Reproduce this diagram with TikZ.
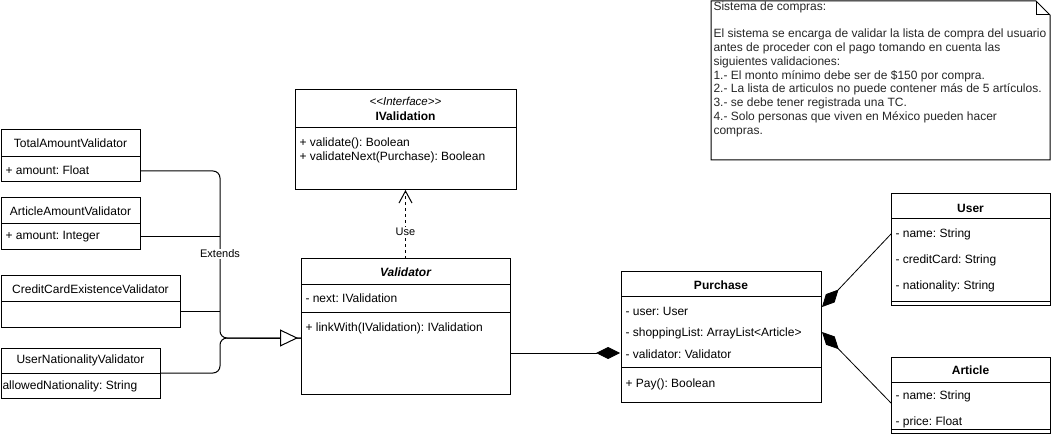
\documentclass[tikz,border=0pt]{standalone}
\usepackage{fontspec}
\setmainfont[Ligatures=NoCommon]{Liberation Sans}
\usetikzlibrary{arrows.meta,calc}
\frenchspacing
\begin{document}
\frenchspacing
\begin{tikzpicture}[x=1pt,y=-1pt,
  font=\fontsize{12}{13.8}\selectfont,
  line width=1pt,
  box/.style={draw=black, fill=white, inner sep=0pt, outer sep=0pt, anchor=north west, rectangle},
  mem/.style={anchor=west, inner sep=0pt},
  ttl/.style={anchor=center, inner sep=0pt, font=\fontsize{12}{13.8}\selectfont\bfseries},
  lbl/.style={fill=white, inner sep=1pt, font=\fontsize{11}{13}\selectfont},
  diam/.style={{Diamond[length=24pt,width=12pt]}-},
  ext/.style={-{Triangle[open,length=18pt,width=17pt,fill=white]}},
]
\useasboundingbox (0,0) rectangle (1051,443);

% ---- Left subclasses
\node[box, minimum width=139pt, minimum height=52pt] (total) at (1,130) {};
\draw (1,157) -- (140,157);
\node[ttl, font=\fontsize{12}{13.8}\selectfont] (totalT) at (70.5,143.5) {TotalAmountValidator};
\node[mem] (totalA) at (5,170) {+ amount: Float};

\node[box, minimum width=139pt, minimum height=52pt] (artv) at (1,198) {};
\draw (1,224) -- (140,224);
\node[ttl, font=\fontsize{12}{13.8}\selectfont] (artvT) at (70.5,211) {ArticleAmountValidator};
\node[mem] (artvA) at (5,237) {+ amount: Integer};

\node[box, minimum width=179pt, minimum height=51pt] (ccv) at (1,276) {};
\draw (1,302) -- (180,302);
\node[ttl, font=\fontsize{12}{13.8}\selectfont] (ccvT) at (90.5,289) {CreditCardExistenceValidator};

\node[box, minimum width=159pt, minimum height=50pt] (unv) at (1,348) {};
\draw (1,373) -- (160,373);
\node[ttl, font=\fontsize{12}{13.8}\selectfont] (unvT) at (80.5,360.5) {UserNationalityValidator};
\node[mem] (unvA) at (2,386) {allowedNationality: String};

% ---- IValidation
\node[box, minimum width=221pt, minimum height=100pt] (ival) at (295,90) {};
\draw (295,128) -- (516,128);
\node[inner sep=0pt, font=\fontsize{11.5}{13}\selectfont\itshape] (ivalS) at (405.5,101) {{<}{<}Interface{>}{>}};
\node[ttl] (ivalT) at (405.5,116) {IValidation};
\node[mem] (ivalA) at (299,143) {+ validate(): Boolean};
\node[mem] (ivalB) at (299,157) {+ validateNext(Purchase): Boolean};

% ---- Validator
\node[box, minimum width=209pt, minimum height=135pt] (valid) at (301,259) {};
\draw (301,285) -- (510,285);
\draw (301,312) -- (510,312);
\node[ttl, font=\fontsize{12}{13.8}\selectfont\bfseries\itshape] (validT) at (405.5,272) {Validator};
\node[mem] (validA) at (305,298) {- next: IValidation};
\node[mem] (validB) at (305,328) {+ linkWith(IValidation): IValidation};

% ---- Purchase
\node[box, minimum width=200pt, minimum height=130pt] (purch) at (621,272) {};
\draw (621,297) -- (821,297);
\draw (621,367) -- (821,367);
\node[ttl] (purchT) at (721,285) {Purchase};
\node[mem] (purchA) at (625,311) {- user: User};
\node[mem] (purchB) at (625,333) {- shoppingList: ArrayList{<}Article{>}};
\node[mem] (purchC) at (625,354) {- validator: Validator};
\node[mem] (purchD) at (625,384) {+ Pay(): Boolean};

% ---- User
\node[box, minimum width=159pt, minimum height=112pt] (user) at (891,194) {};
\draw (891,219) -- (1050,219);
\draw (891,302) -- (1050,302);
\node[ttl] (userT) at (970.5,208) {User};
\node[mem] (userA) at (895,234) {- name: String};
\node[mem] (userB) at (895,260) {- creditCard: String};
\node[mem] (userC) at (895,286) {- nationality: String};

% ---- Article
\node[box, minimum width=159pt, minimum height=76pt] (art) at (891,357) {};
\draw (891,382) -- (1050,382);
\draw (891,429) -- (1050,429);
\node[ttl] (artT) at (970.5,370) {Article};
\node[mem] (artA) at (895,396) {- name: String};
\node[mem] (artB) at (895,422) {- price: Float};

% ---- Note
\draw (711,1) -- (1036,1) -- (1050,15) -- (1050,160) -- (711,160) -- cycle;
\draw (1036,1) -- (1036,15) -- (1050,15);
\node[anchor=north west, inner sep=0pt, align=left, text=black!85] (note) at (713,1)
{Sistema de compras:\\[13.8pt]
El sistema se encarga de validar la lista de compra del usuario\\
antes de proceder con el pago tomando en cuenta las\\
siguientes validaciones:\\
1.- El monto mínimo debe ser de \$150 por compra.\\
2.- La lista de articulos no puede contener más de 5 artículos.\\
3.- se debe tener registrada una TC.\\
4.- Solo personas que viven en México pueden hacer\\
compras.};

% ---- Generalisation edges
\coordinate (tip) at ($(valid.north west)+(0,79)$);
\coordinate (jn) at (220,338);
\draw[rounded corners=7pt] ($(total.north east)+(0,41)$) -| (jn) -- (tip);
\draw ($(artv.north east)+(0,39)$) -- (220,237);
\draw ($(ccv.north east)+(0,35)$) -- (220,311);
\draw[rounded corners=7pt] ($(unv.north east)+(0,25)$) -| (jn) -- (tip);
\draw[ext] (250,338) -- ($(tip)+(-3,0)$);
\node[lbl] (extl) at (220,254) {Extends};

% ---- Use (dependency)
\draw[dashed, dash pattern=on 3pt off 3pt, -{Straight Barb[length=12pt,width=13pt]}]
  (valid.north) -- node[lbl, pos=0.39] (usel) {Use} (ival.south);

% ---- Compositions
\draw[diam] ($(purch.north west)+(-1,81)$) -- ($(valid.north east)+(0,94)$);
\draw[diam, line width=0.8pt] ($(purch.north east)+(1,35)$) -- ($(user.north west)+(0,40)$);
\draw[diam, line width=0.8pt] ($(purch.north east)+(1,60)$) -- ($(art.north west)+(0,46)$);
\end{tikzpicture}
\end{document}
